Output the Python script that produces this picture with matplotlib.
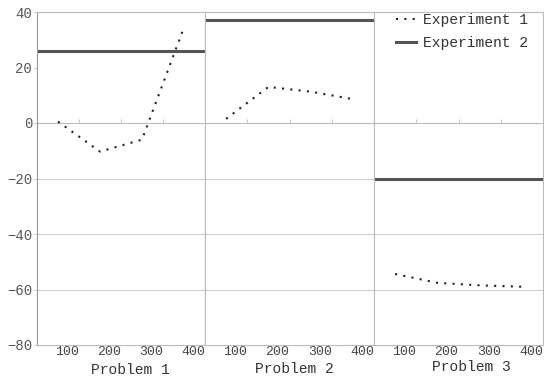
import matplotlib
matplotlib.use("Agg")
import matplotlib.pyplot as plt

problems = ["Problem 1", "Problem 2", "Problem 3"]
exp1_x = [50, 150, 250, 350]
exp1_y = [
    [0.5, -10.3, -6.0, 34.5],
    [1.5, 13.0, 11.3, 8.6],
    [-54.4, -57.6, -58.5, -59.0],
]
exp2_y = [26.0, 37.0, -20.0]
xticks = [100, 200, 300, 400]
yticks = [-80, -60, -40, -20, 0, 20, 40]
grid_y = [-60, -40, -20]

plt.rcParams['font.family'] = ['Liberation Mono', 'DejaVu Sans Mono']

W, H = 544, 382
fig = plt.figure(figsize=(W / 100, H / 100), dpi=100)
edges = [37, 205, 374, 543]
top, bottom = 12, 345
label_x = [0.553, 0.527, 0.574]
label_y = [-0.054, -0.050, -0.046]

axes = []
for i in range(3):
    l = edges[i] / W
    w = (edges[i + 1] - edges[i]) / W
    ax = fig.add_axes([l, 1 - bottom / H, w, (bottom - top) / H])
    axes.append(ax)
    ax.set_xlim(0, 400)
    ax.set_ylim(-80, 40)
    for g in grid_y:
        ax.axhline(g, color='#cccccc', lw=0.8, zorder=0)
    ax.axhline(0, color='#bbbbbb', lw=0.8, zorder=0)
    ln1, = ax.plot(exp1_x, exp1_y[i], color='#222222', lw=1.5,
                   linestyle=(0, (1, 3)), label='Experiment 1')
    ln2 = ax.axhline(exp2_y[i], color='#555555', lw=2.2, label='Experiment 2')
    for s in ['top', 'bottom', 'right']:
        ax.spines[s].set_color('#bbbbbb')
        ax.spines[s].set_linewidth(0.8)
    ax.spines['left'].set_color('#999999' if i == 0 else '#bbbbbb')
    ax.spines['left'].set_linewidth(0.8)
    ax.set_xticks(xticks)
    ax.set_xticklabels([str(t) for t in xticks], ha='right')
    ax.tick_params(axis='x', length=0, pad=1, labelsize=9.5, labelcolor='#444444')
    ax.set_yticks(yticks)
    if i == 0:
        ax.tick_params(axis='y', length=2, width=0.6, color='#bbbbbb', pad=1.5,
                       labelsize=10, labelcolor='#555555')
    else:
        ax.tick_params(axis='y', length=0, labelleft=False)
    ax.set_xlabel(problems[i], fontsize=10.5, color='#333333')
    ax.xaxis.set_label_coords(label_x[i], label_y[i])
    # small tick marks on the zero axis
    ax2 = ax.twiny()
    ax2.set_xlim(0, 400)
    ax2.spines['top'].set_position(('data', 0))
    ax2.spines['top'].set_visible(False)
    for s in ['bottom', 'left', 'right']:
        ax2.spines[s].set_visible(False)
    ax2.set_xticks(xticks[:3])
    ax2.tick_params(axis='x', direction='out', length=3, width=0.6,
                    color='#bbbbbb', labeltop=False)

axes[2].legend(handles=[ln1, ln2], loc='upper left', bbox_to_anchor=(0.05, 1.035),
               frameon=False, fontsize=10.5, handlelength=1.4, handletextpad=0.5,
               labelspacing=0.6, labelcolor='#333333')

fig.savefig("out.png", dpi=100)
